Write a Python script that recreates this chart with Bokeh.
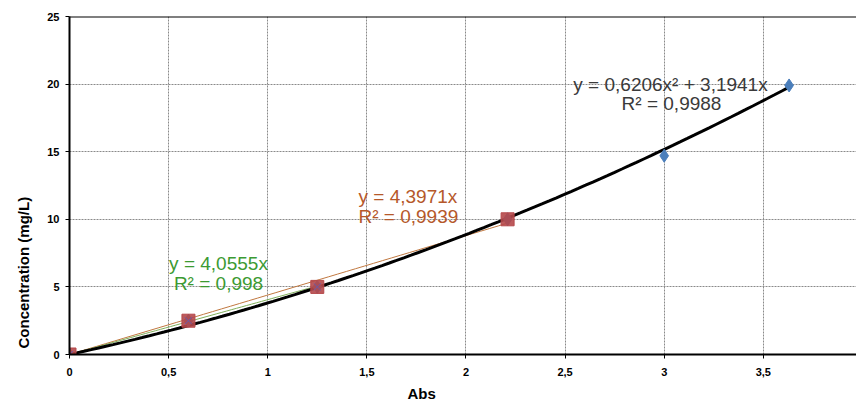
import numpy as np
from bokeh.plotting import figure
from bokeh.models import Span, Range1d, FixedTicker, CustomJSTickFormatter, Label, Title
from bokeh.embed import file_html
from bokeh.resources import INLINE

# data
sq_x = [0.0, 0.6, 1.25, 2.21]
sq_y = [0.0, 2.5, 5.0, 10.0]
dia_x = [0.0, 0.6, 1.25, 2.21, 3.0, 3.63]
dia_y = [0.0, 2.5, 5.0, 10.0, 14.7, 19.9]
quad_a, quad_b = 0.6206, 3.1941
green_k = 4.0555
orange_k = 4.3971
x_ticks = [0, 0.5, 1, 1.5, 2, 2.5, 3, 3.5]
y_ticks = [0, 5, 10, 15, 20, 25]

FONT = "Liberation Sans"

p = figure(width=856, height=405, output_backend="svg", toolbar_location=None,
           x_range=Range1d(0, 3.97), y_range=Range1d(0, 25),
           min_border_left=69, min_border_right=0, min_border_top=16, min_border_bottom=51)
p.outline_line_color = None
p.background_fill_color = "white"

for ax, ticks in ((p.xaxis[0], x_ticks), (p.yaxis[0], y_ticks)):
    ax.ticker = FixedTicker(ticks=ticks)
    ax.formatter = CustomJSTickFormatter(code="return String(tick).replace('.', ',');")
    ax.axis_line_width = 2
    ax.axis_line_color = "black"
    ax.major_tick_in = 0
    ax.major_tick_out = 4
    ax.major_tick_line_width = 1
    ax.minor_tick_line_color = None
    ax.major_label_text_font = FONT
    ax.major_label_text_font_size = "11px"
    ax.major_label_text_font_style = "bold"
    ax.major_label_text_color = "black"

p.xaxis.major_label_standoff = 9
p.yaxis.major_label_standoff = 6

for g in (p.xgrid[0], p.ygrid[0]):
    g.grid_line_color = "#8a8a8a"
    g.grid_line_dash = "2 1"
    g.grid_line_width = 1

p.add_layout(Span(location=25, dimension="width", line_color="black", line_width=2))

# trendlines
xo = np.linspace(0, sq_x[3], 50)
p.line(xo, orange_k * xo, line_color="#c07840", line_width=1)
xg = np.linspace(0, sq_x[2], 50)
p.line(xg, green_k * xg, line_color="#7fae5a", line_width=1)
xq = np.linspace(0, dia_x[-1], 100)
p.line(xq, quad_a * xq ** 2 + quad_b * xq, line_color="black", line_width=3)

# markers
p.scatter(dia_x, dia_y, marker="diamond", size=13, fill_color="#4a7ebb", line_color="#4a7ebb")
p.scatter(sq_x, sq_y, marker="square", size=13, fill_color="#b5484a", line_color="#b5484a", fill_alpha=0.9)
p.scatter(sq_x[:3], sq_y[:3], marker="x", size=10, line_color="#6a5aa8", line_width=1)

fh = 338
def sy(py):
    return fh - (py - 16)
def sx(px):
    return px - 69

def lab(x, y, t, c, align="left", size="19px"):
    p.add_layout(Label(x=x, y=y, x_units="screen", y_units="screen", text=t,
                       text_font=FONT, text_font_size=size, text_color=c,
                       text_align=align, text_baseline="middle"))

lab(sx(218), sy(263), "y = 4,0555x", "#3c9a32", "center")
lab(sx(218), sy(283), "R² = 0,998", "#3c9a32", "center")
lab(sx(358), sy(196), "y = 4,3971x", "#b5582a")
lab(sx(358), sy(216), "R² = 0,9939", "#b5582a")
lab(sx(670), sy(84), "y = 0,6206x² + 3,1941x", "#3a3a3a", "center")
lab(sx(671), sy(103), "R² = 0,9988", "#3a3a3a", "center")

# axis titles
xt = Title(text="Abs", align="left", offset=338, text_font=FONT, text_font_size="15px",
           text_font_style="bold", text_color="black", standoff=8)
p.add_layout(xt, "below")
yt = Title(text="Concentration (mg/L)", align="left", offset=6, text_font=FONT,
           text_font_size="15px", text_font_style="bold", text_color="black", standoff=25)
p.add_layout(yt, "left")

open("out.html", "w").write(file_html(p, INLINE))
